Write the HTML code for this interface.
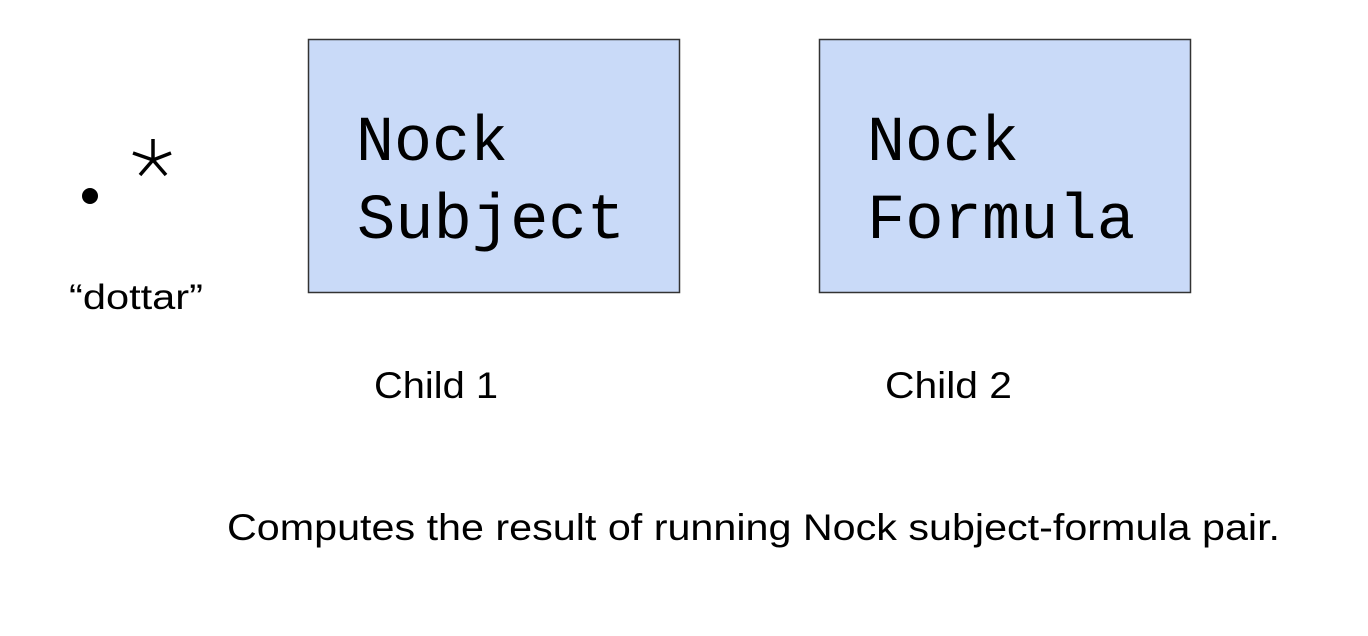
<!DOCTYPE html>
<html><head><meta charset="utf-8"><style>
html,body{margin:0;padding:0;background:#fff;}
svg{display:block;}
</style></head><body>
<svg width="1368" height="636" xmlns="http://www.w3.org/2000/svg">
<rect x="308.5" y="39.5" width="371" height="253" fill="#c9daf8" stroke="#333" stroke-width="1.5"/>
<rect x="819.5" y="39.5" width="371" height="253" fill="#c9daf8" stroke="#333" stroke-width="1.5"/>
<g font-family="'Liberation Mono', monospace" font-size="64" fill="#000">
<text x="356" y="160" textLength="152" lengthAdjust="spacingAndGlyphs">Nock</text>
<text x="357" y="238" textLength="268" lengthAdjust="spacingAndGlyphs">Subject</text>
<text x="867" y="160" textLength="152" lengthAdjust="spacingAndGlyphs">Nock</text>
<text x="867" y="238" textLength="268" lengthAdjust="spacingAndGlyphs">Formula</text>
</g>
<circle cx="90" cy="196" r="8" fill="#000"/>
<g stroke="#000" stroke-width="3.5" stroke-linecap="butt">
<line x1="153" y1="139" x2="153" y2="160"/>
<line x1="153" y1="160" x2="133" y2="153"/>
<line x1="153" y1="160" x2="171" y2="153"/>
<line x1="153" y1="160" x2="140" y2="175"/>
<line x1="153" y1="160" x2="166" y2="175"/>
</g>
<g font-family="'Liberation Sans', Arial, sans-serif" fill="#000">
<text x="69" y="309" font-size="35" textLength="134" lengthAdjust="spacingAndGlyphs">“dottar”</text>
<text x="374" y="398" font-size="37" textLength="124" lengthAdjust="spacingAndGlyphs">Child 1</text>
<text x="885" y="398" font-size="37" textLength="127" lengthAdjust="spacingAndGlyphs">Child 2</text>
<text x="227" y="540" font-size="37" textLength="1053" lengthAdjust="spacingAndGlyphs">Computes the result of running Nock subject-formula pair.</text>
</g>
</svg>
</body></html>
